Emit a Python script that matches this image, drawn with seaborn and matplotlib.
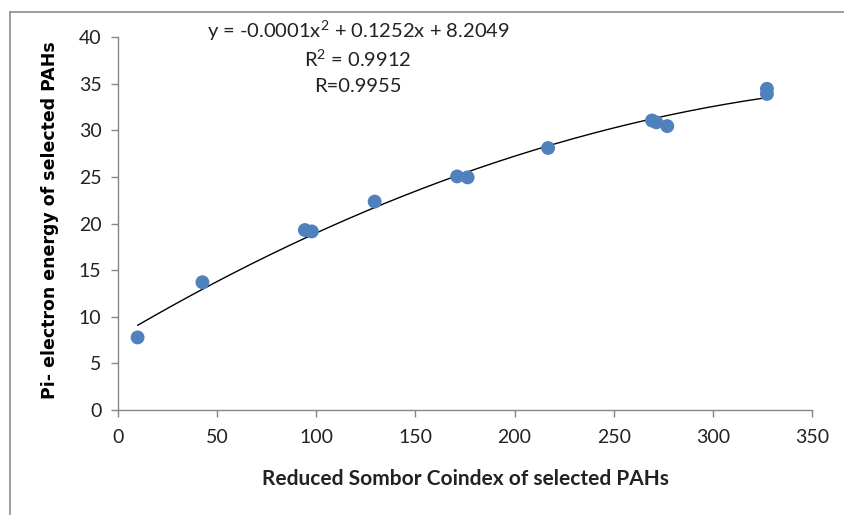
import numpy as np
import pandas as pd
import matplotlib.pyplot as plt
import seaborn as sns
from matplotlib.lines import Line2D

# values
sombor = [9.8, 42.5, 94.2, 97.7, 129.4, 171.0, 176.3, 216.9, 269.3, 271.5, 277.0, 327.3, 327.3]
pi_energy = [7.78, 13.7, 19.3, 19.15, 22.35, 25.05, 24.95, 28.1, 31.05, 30.85, 30.45, 34.45, 33.9]

eq_text = "y = -0.0001x$^2$ + 0.1252x + 8.2049"
r2_text = "R$^2$ = 0.9912"
r_text = "R=0.9955"

df = pd.DataFrame({"x": sombor, "y": pi_energy})

sns.set_style("white")
plt.rcParams["font.family"] = ["Lato", "DejaVu Sans"]
plt.rcParams["mathtext.fontset"] = "custom"
plt.rcParams["mathtext.rm"] = "Lato"

fig = plt.figure(figsize=(8.44, 5.15), dpi=100)
ax = fig.add_axes([0.140, 0.204, 0.822, 0.724])

# polynomial trendline (order 2) fitted to the points
coef = np.polyfit(df["x"], df["y"], 2)
xs = np.linspace(df["x"].min(), df["x"].max(), 200)
trend = pd.DataFrame({"x": xs, "y": np.polyval(coef, xs)})
sns.lineplot(data=trend, x="x", y="y", ax=ax, color="black", linewidth=1.0)

sns.scatterplot(data=df, x="x", y="y", ax=ax, color="#4F81BD", s=100,
                edgecolor="none", zorder=3)

ax.set_xlim(0, 350)
ax.set_ylim(0, 40)
ax.set_xticks(range(0, 351, 50))
ax.set_yticks(range(0, 41, 5))
for side in ["top", "right"]:
    ax.spines[side].set_visible(False)
for side in ["left", "bottom"]:
    ax.spines[side].set_color("#868686")
    ax.spines[side].set_linewidth(1.0)
ax.tick_params(axis="both", direction="out", length=5, width=1.0,
               color="#868686", labelsize=14, labelcolor="#222222",
               left=True, bottom=True)
ax.tick_params(axis="x", pad=9)
ax.tick_params(axis="y", pad=7)

ax.set_xlabel("Reduced Sombor Coindex of selected PAHs", fontsize=15,
              fontweight="bold", color="#222222")
ax.set_ylabel("Pi- electron energy of selected PAHs", fontsize=12.5,
              fontweight="bold", family="DejaVu Sans", color="black")
ax.xaxis.set_label_coords(0.50, -0.158)
ax.yaxis.set_label_coords(-0.085, 0.51)

ax.text(121, 40.7, eq_text, ha="center", va="center", fontsize=14.5,
        color="#222222", clip_on=False)
ax.text(121, 37.7, r2_text, ha="center", va="center", fontsize=14.5,
        color="#222222", clip_on=False)
ax.text(121, 34.7, r_text, ha="center", va="center", fontsize=14.5,
        color="#222222", clip_on=False)

# chart-area frame
fig.add_artist(Line2D([10 / 844, 10 / 844], [0, 1 - 12 / 515], color="#8c8c8c",
                      linewidth=1.2, transform=fig.transFigure))
fig.add_artist(Line2D([10 / 844, 1], [1 - 12 / 515, 1 - 12 / 515], color="#8c8c8c",
                      linewidth=1.2, transform=fig.transFigure))

fig.savefig("out.png", dpi=100)
